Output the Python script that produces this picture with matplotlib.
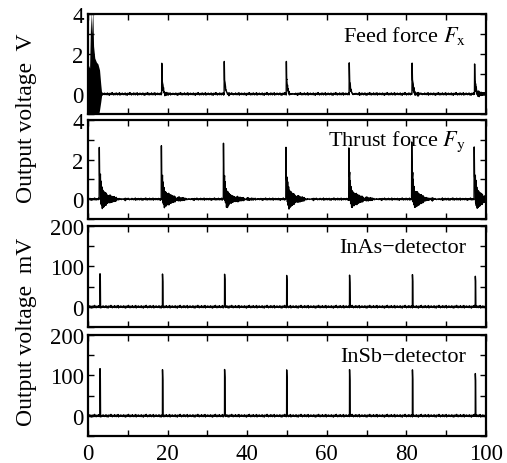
import numpy as np
import matplotlib.pyplot as plt
from matplotlib.ticker import MultipleLocator

plt.rcParams["font.family"] = ["Liberation Serif", "DejaVu Serif"]
plt.rcParams["mathtext.fontset"] = "stix"

# spike positions / heights
feed_times = [18.5, 34.2, 49.8, 65.6, 81.4, 97.1]
feed_heights = [1.6, 1.6, 1.6, 1.55, 1.6, 1.55]
feed_ring = [0.08, 0.08, 0.1, 0.12, 0.2, 0.25]
# start-up burst of the feed force (envelope)
burst_x = [0.0, 0.4, 0.7, 0.9, 1.2, 1.4, 1.7, 2.1, 2.5, 2.9, 3.2, 3.4]
burst_top = [1.5, 1.3, 4.2, 3.0, 4.2, 2.4, 1.8, 1.6, 1.5, 1.2, 0.5, 0.1]
burst_bot = [-1.2, -1.2, -1.2, -1.2, -1.2, -1.2, -1.2, -1.2, -1.2, -0.8, -0.4, -0.1]

thrust_times = [2.8, 18.4, 34.0, 49.7, 65.5, 81.3, 97.0]
thrust_heights = [2.65, 2.7, 2.85, 2.65, 2.6, 2.85, 2.65]
thrust_ring = [0.7, 0.7, 0.65, 0.7, 0.7, 0.7, 0.7]

inas_times = [3.0, 18.7, 34.3, 49.9, 65.7, 81.5, 97.3]
inas_heights = [80, 79, 82, 78, 78, 79, 78]

insb_times = [3.0, 18.7, 34.3, 49.9, 65.7, 81.5, 97.3]
insb_heights = [115, 112, 116, 114, 114, 113, 107]

# baseline wiggle, hand typed (relative units)
noise_pattern = [0.2, -0.5, 0.4, -0.1, 0.7, -0.6, 0.1, 0.3, -0.9, 0.5,
                 -0.2, 0.0, 0.6, -0.4, 1.0, -0.3, 0.2, -0.7, 0.4, -0.1,
                 0.3, -0.5, 0.8, -0.2, 0.1, -0.6, 0.5, 0.0, -0.3, 0.9,
                 -0.8, 0.2, -0.1, 0.4, -0.4, 0.6, -0.2]

# spike shapes (offset after onset, fraction of peak)
force_dx = [0.0, 0.04, 0.12, 0.4, 0.8]
force_frac = [0.0, 1.0, 0.45, 0.15, 0.0]
det_dx = [0.0, 0.02, 0.1, 0.15]
det_frac = [0.0, 1.0, 0.8, 0.0]


def trace(times, heights, dx, frac, noise_amp, rings=None, tau=1.5):
    grid = np.arange(0, 100.001, 0.12)
    extra = [t + d for t in times for d in dx]
    x = np.unique(np.concatenate([grid, extra]))
    x = x[x <= 100]
    y = noise_amp * np.resize(noise_pattern, x.size)
    for i, (t, h) in enumerate(zip(times, heights)):
        y += h * np.interp(x - t, dx, frac, left=0, right=0)
        if rings is not None:
            after = x >= t + 0.25
            k = np.arange(after.sum())
            sign = np.where(k % 2 == 0, 1.0, -1.0)
            y[after] += rings[i] * np.exp(-(x[after] - t) / tau) * sign
    return x, y


feed = trace(feed_times, feed_heights, force_dx, force_frac, 0.07, feed_ring, 1.0)
thrust = trace(thrust_times, thrust_heights, force_dx, force_frac, 0.06, thrust_ring, 1.8)
inas = trace(inas_times, inas_heights, det_dx, det_frac, 3.5)
insb = trace(insb_times, insb_heights, det_dx, det_frac, 3.5)

W, H = 507, 464
fig = plt.figure(figsize=(W / 100, H / 100), dpi=100)
boxes = [(15, 115), (121, 220), (227, 328), (336, 437)]
left, right = 88, 486
axes = []
for top, bot in boxes:
    axes.append(fig.add_axes([left / W, 1 - bot / H, (right - left) / W, (bot - top) / H]))

panels = [
    (feed, (-1, 4), 2, 1, "Feed force $F_{\\mathrm{x}}$"),
    (thrust, (-1, 4), 2, 1, "Thrust force $F_{\\mathrm{y}}$"),
    (inas, (-50, 200), 100, 50, "InAs\u2212detector"),
    (insb, (-50, 200), 100, 50, "InSb\u2212detector"),
]

for ax, ((xs, ys), ylim, major, minor, label) in zip(axes, panels):
    ax.plot(xs, ys, color="black", lw=1.0)
    ax.set_xlim(0, 100)
    ax.set_ylim(*ylim)
    ax.xaxis.set_major_locator(MultipleLocator(20))
    ax.xaxis.set_minor_locator(MultipleLocator(10))
    ax.yaxis.set_major_locator(MultipleLocator(major))
    ax.yaxis.set_minor_locator(MultipleLocator(minor))
    ax.tick_params(which="both", direction="in", top=True, right=True,
                   length=4, width=1, labelsize=16.5, pad=3)
    for s in ax.spines.values():
        s.set_linewidth(1.6)
    ax.text(0.95, 0.79, label, transform=ax.transAxes, ha="right", va="center",
            fontsize=16)
    if ax is not axes[-1]:
        ax.tick_params(labelbottom=False)

axes[0].fill_between(burst_x, burst_bot, burst_top, color="black", lw=0)
axes[3].tick_params(axis="x", pad=5)

fig.text(27 / W, 1 - 118 / H, "Output voltage  V", rotation=90,
         ha="center", va="center", fontsize=17)
fig.text(27 / W, 1 - 332 / H, "Output voltage  mV", rotation=90,
         ha="center", va="center", fontsize=17)

fig.savefig("out.png", dpi=100)
